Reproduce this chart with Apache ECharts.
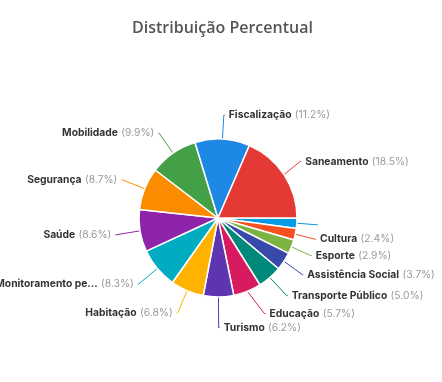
<!DOCTYPE html>
<html><head><meta charset="utf-8">
<script src="https://cdn.jsdelivr.net/npm/echarts@6/dist/echarts.min.js"></script>
<style>html,body{margin:0;padding:0;background:#fff}#c{width:442px;height:382px}</style>
</head><body><div id="c"></div>
<script>
const categories = ["", "Cultura", "Esporte", "Assistência Social", "Transporte Público", "Educação", "Turismo", "Habitação", "Monitoramento pe...", "Saúde", "Segurança", "Mobilidade", "Fiscalização", "Saneamento"];
const values = [2.1, 2.4, 2.9, 3.7, 5.0, 5.7, 6.2, 6.8, 8.3, 8.6, 8.7, 9.9, 11.2, 18.5];
const colors = ["#039be5", "#f4511e", "#7cb342", "#3949ab", "#00897b", "#d81b60", "#5e35b1", "#ffb300", "#00acc1", "#8e24aa", "#fb8c00", "#43a047", "#1e88e5", "#e53935"];

const chart = echarts.init(document.getElementById('c'));
chart.setOption({
  animation: false,
  title: {
    text: 'Distribuição Percentual', left: 127, top: 15,
    textStyle: { fontFamily: 'Open Sans', fontSize: 16, fontWeight: 600, color: '#555' }
  },
  series: [{
    type: 'pie',
    center: [218, 218],
    radius: 79,
    startAngle: 0,
    clockwise: true,
    itemStyle: { borderColor: '#fff', borderWidth: 1.5 },
    labelLine: { length: 24, length2: 1, lineStyle: { width: 1 } },
    label: {
      fontFamily: 'Inter',
      overflow: 'none',
      distanceToLabelLine: 4,
      formatter: p => p.name ? '{b|' + p.name + '} {c|(' + p.value.toFixed(1) + '%)}' : '',
      rich: {
        b: { fontFamily: 'Inter', fontSize: 10.3, fontWeight: 'bold', color: '#333' },
        c: { fontFamily: 'Inter', fontSize: 10.3, color: '#999' }
      }
    },
    data: categories.map((n, i) => ({
      name: n, value: values[i], itemStyle: { color: colors[i] },
      label: n ? undefined : { show: true, color: 'transparent' }
    }))
  }]
});
</script></body></html>
